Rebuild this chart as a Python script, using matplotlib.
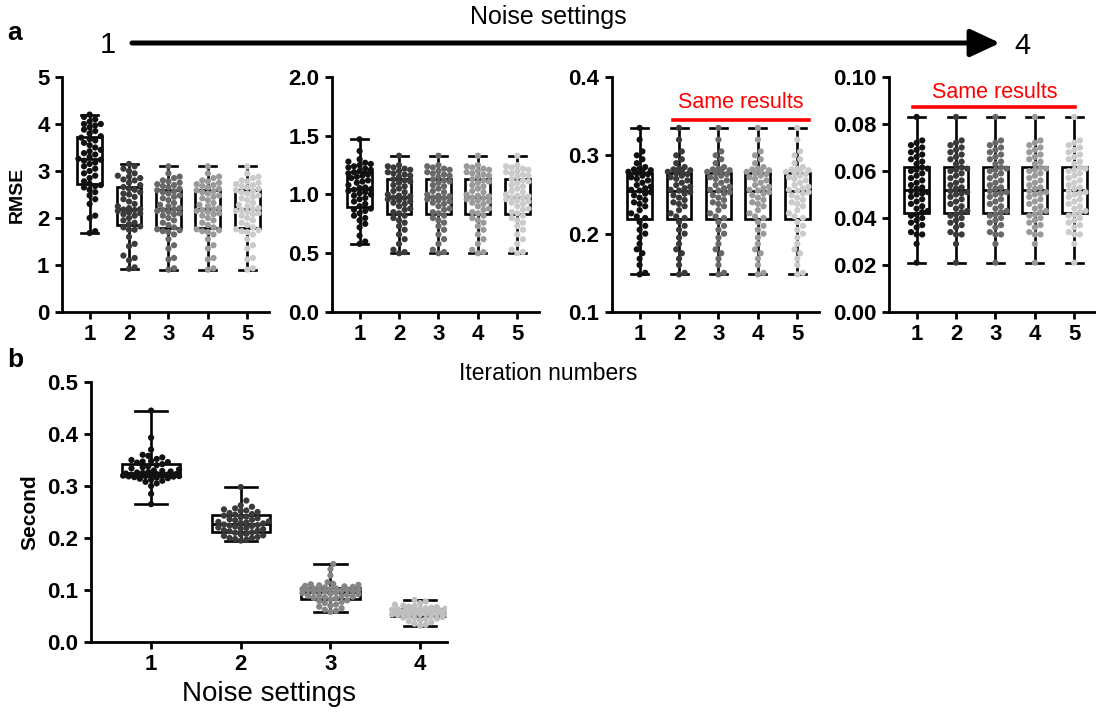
import numpy as np
import matplotlib
matplotlib.use('Agg')
import matplotlib.pyplot as plt
from matplotlib.patches import FancyArrowPatch
from matplotlib.ticker import FormatStrFormatter

plt.rcParams['font.family'] = ['Liberation Sans', 'DejaVu Sans']

# ---- data: RMSE per iteration, for each noise setting (a) ----
iterations = [1, 2, 3, 4, 5]

rmse_n1_it1 = [1.68, 1.72, 2.00, 2.05, 2.30, 2.40, 2.48, 2.55, 2.60, 2.65, 2.68, 2.70,
               2.73, 2.78, 2.85, 2.90, 2.95, 3.00, 3.05, 3.10, 3.15, 3.18, 3.22, 3.24,
               3.26, 3.30, 3.35, 3.38, 3.42, 3.45, 3.50, 3.55, 3.60, 3.65, 3.68, 3.71,
               3.74, 3.80, 3.85, 3.88, 3.93, 3.97, 4.00, 4.00, 4.05, 4.10, 4.15, 4.20]
rmse_n1_it2 = [0.92, 0.95, 1.10, 1.15, 1.20, 1.40, 1.45, 1.60, 1.75, 1.75, 1.80, 1.82,
               1.87, 1.90, 1.95, 2.00, 2.05, 2.08, 2.10, 2.12, 2.15, 2.17, 2.18, 2.19,
               2.21, 2.25, 2.30, 2.35, 2.40, 2.45, 2.50, 2.52, 2.55, 2.60, 2.62, 2.66,
               2.70, 2.75, 2.80, 2.82, 2.85, 2.88, 2.90, 2.95, 3.00, 3.05, 3.10, 3.15]
rmse_n1_it3 = [0.90, 0.93, 1.12, 1.15, 1.35, 1.42, 1.55, 1.65, 1.70, 1.72, 1.74, 1.76,
               1.80, 1.85, 1.90, 1.95, 2.00, 2.05, 2.08, 2.10, 2.13, 2.15, 2.17, 2.19,
               2.21, 2.25, 2.28, 2.32, 2.38, 2.42, 2.45, 2.48, 2.52, 2.55, 2.57, 2.59,
               2.62, 2.65, 2.68, 2.70, 2.72, 2.75, 2.78, 2.80, 2.85, 2.88, 2.95, 3.10]

rmse_n2_it1 = [0.58, 0.60, 0.65, 0.72, 0.75, 0.78, 0.80, 0.82, 0.84, 0.86, 0.87, 0.88,
               0.90, 0.92, 0.94, 0.96, 0.97, 0.99, 1.00, 1.01, 1.02, 1.03, 1.04, 1.045,
               1.055, 1.06, 1.08, 1.10, 1.11, 1.12, 1.14, 1.15, 1.16, 1.17, 1.18, 1.19,
               1.20, 1.21, 1.22, 1.23, 1.24, 1.25, 1.26, 1.27, 1.28, 1.30, 1.37, 1.47]
rmse_n2_it2 = [0.50, 0.51, 0.53, 0.58, 0.62, 0.66, 0.70, 0.73, 0.76, 0.78, 0.80, 0.82,
               0.84, 0.85, 0.87, 0.88, 0.90, 0.92, 0.93, 0.94, 0.95, 0.96, 0.97, 0.975,
               0.985, 0.99, 1.00, 1.02, 1.03, 1.05, 1.07, 1.08, 1.10, 1.11, 1.12, 1.13,
               1.15, 1.16, 1.17, 1.18, 1.19, 1.20, 1.21, 1.22, 1.23, 1.24, 1.25, 1.33]

rmse_n3 = [0.148, 0.150, 0.160, 0.168, 0.175, 0.180, 0.187, 0.195, 0.200, 0.205, 0.210, 0.215,
           0.220, 0.222, 0.226, 0.230, 0.235, 0.238, 0.240, 0.243, 0.246, 0.249, 0.251, 0.253,
           0.255, 0.256, 0.258, 0.260, 0.262, 0.265, 0.268, 0.270, 0.272, 0.274, 0.276, 0.277,
           0.279, 0.280, 0.281, 0.282, 0.283, 0.285, 0.290, 0.295, 0.300, 0.305, 0.320, 0.335]

rmse_n4 = [0.021, 0.029, 0.033, 0.033, 0.034, 0.036, 0.037, 0.038, 0.039, 0.040, 0.041, 0.0415,
           0.0425, 0.043, 0.044, 0.045, 0.046, 0.047, 0.048, 0.049, 0.050, 0.0505, 0.051, 0.0515,
           0.0525, 0.053, 0.054, 0.055, 0.056, 0.057, 0.058, 0.059, 0.060, 0.0605, 0.061, 0.0615,
           0.063, 0.064, 0.065, 0.066, 0.067, 0.068, 0.069, 0.070, 0.071, 0.072, 0.073, 0.083]

rmse_panels = [
    [rmse_n1_it1, rmse_n1_it2, rmse_n1_it3, rmse_n1_it3, rmse_n1_it3],
    [rmse_n2_it1, rmse_n2_it2, rmse_n2_it2, rmse_n2_it2, rmse_n2_it2],
    [rmse_n3] * 5,
    [rmse_n4] * 5,
]

# ---- data: run time per noise setting (b) ----
noise_settings = [1, 2, 3, 4]

time_n1 = [0.265, 0.285, 0.300, 0.305, 0.308, 0.310, 0.312, 0.314, 0.315, 0.316, 0.317, 0.318,
           0.3185, 0.319, 0.319, 0.320, 0.320, 0.321, 0.321, 0.322, 0.322, 0.323, 0.323, 0.324,
           0.325, 0.326, 0.327, 0.328, 0.329, 0.330, 0.332, 0.334, 0.336, 0.338, 0.340, 0.342,
           0.345, 0.346, 0.347, 0.348, 0.350, 0.352, 0.355, 0.358, 0.360, 0.370, 0.393, 0.445]
time_n2 = [0.195, 0.197, 0.198, 0.200, 0.200, 0.202, 0.204, 0.205, 0.207, 0.208, 0.210, 0.211,
           0.213, 0.214, 0.215, 0.217, 0.218, 0.219, 0.220, 0.222, 0.223, 0.224, 0.225, 0.226,
           0.228, 0.229, 0.230, 0.231, 0.232, 0.234, 0.235, 0.236, 0.238, 0.240, 0.241, 0.243,
           0.245, 0.246, 0.248, 0.250, 0.252, 0.253, 0.255, 0.257, 0.260, 0.263, 0.272, 0.298]
time_n3 = [0.058, 0.060, 0.062, 0.065, 0.068, 0.070, 0.072, 0.075, 0.077, 0.079, 0.080, 0.082,
           0.084, 0.085, 0.086, 0.087, 0.088, 0.089, 0.090, 0.091, 0.092, 0.093, 0.094, 0.095,
           0.096, 0.097, 0.098, 0.099, 0.100, 0.100, 0.101, 0.101, 0.102, 0.102, 0.103, 0.103,
           0.105, 0.106, 0.107, 0.108, 0.109, 0.110, 0.111, 0.112, 0.115, 0.128, 0.140, 0.150]
time_n4 = [0.031, 0.033, 0.035, 0.038, 0.040, 0.042, 0.044, 0.045, 0.046, 0.047, 0.048, 0.049,
           0.051, 0.052, 0.052, 0.053, 0.053, 0.054, 0.054, 0.055, 0.055, 0.056, 0.056, 0.057,
           0.058, 0.058, 0.059, 0.059, 0.060, 0.060, 0.061, 0.061, 0.062, 0.062, 0.062, 0.063,
           0.064, 0.064, 0.065, 0.066, 0.067, 0.068, 0.069, 0.070, 0.072, 0.075, 0.078, 0.081]
time_sets = [time_n1, time_n2, time_n3, time_n4]

iter_colors = ['#111111', '#3a3a3a', '#686868', '#9a9a9a', '#cbcbcb']
noise_colors = ['#111111', '#3a3a3a', '#858585', '#bfbfbf']

W, H = 1096, 715
fig = plt.figure(figsize=(W / 100, H / 100), dpi=100)


def px_axes(left, top, right, bottom):
    return fig.add_axes([left / W, 1 - bottom / H, (right - left) / W, (bottom - top) / H])


def style_axes(ax):
    for s in ['top', 'right']:
        ax.spines[s].set_visible(False)
    for s in ['left', 'bottom']:
        ax.spines[s].set_linewidth(2.0)
    ax.tick_params(width=2.0, length=5, labelsize=16, pad=4)
    for lab in ax.get_xticklabels() + ax.get_yticklabels():
        lab.set_fontweight('bold')


def swarm_x(ax, x0, vals, d=5.6, max_half=14):
    # spread points sideways so they don't pile on top of each other
    pts = ax.transData.transform(np.column_stack([np.full(len(vals), x0), vals]))
    ys = pts[:, 1]
    xc = pts[0, 0]
    placed = []
    xs = np.zeros(len(ys))
    step = d * 0.5
    for i in np.argsort(ys):
        y = ys[i]
        best, best_gap = 0.0, -1
        k = 0
        while True:
            off = ((k + 1) // 2) * step * (1 if k % 2 else -1)
            if abs(off) > max_half:
                break
            gap = min([np.hypot(off - px, y - py) for px, py in placed] or [1e9])
            if gap >= d:
                best = off
                break
            if gap > best_gap:
                best, best_gap = off, gap
            k += 1
        placed.append((best, y))
        xs[i] = xc + best
    out = ax.transData.inverted().transform(np.column_stack([xs, ys]))
    return out[:, 0]


def draw_group(ax, pos, vals, color, width, capw, max_half):
    lw = 1.9
    ax.boxplot([vals], positions=[pos], widths=width, whis=(0, 100), showfliers=False,
               capwidths=capw, patch_artist=True, manage_ticks=False,
               boxprops=dict(facecolor='white', edgecolor='black', linewidth=lw),
               medianprops=dict(color='black', linewidth=lw),
               whiskerprops=dict(color='black', linewidth=lw),
               capprops=dict(color='black', linewidth=lw), zorder=2)
    xs = swarm_x(ax, pos, vals, max_half=max_half)
    ax.scatter(xs, vals, s=20, color=color, edgecolors='none', zorder=3)


# ---- panel a ----
a_lefts = [62, 332, 612, 889]
a_limits = [(0, 5), (0, 2), (0.1, 0.4), (0, 0.1)]
a_ticks = [np.arange(0, 5.1, 1), np.arange(0, 2.01, 0.5),
           np.arange(0.1, 0.41, 0.1), np.arange(0, 0.101, 0.02)]
a_fmts = ['%d', '%.1f', '%.1f', '%.2f']

a_axes = []
for left, groups, lim, ticks, fmt in zip(a_lefts, rmse_panels, a_limits, a_ticks, a_fmts):
    ax = px_axes(left, 77, left + 207, 312)
    ax.set_xlim(0.3, 5.55)
    ax.set_ylim(*lim)
    ax.set_xticks(iterations)
    ax.set_yticks(ticks)
    ax.yaxis.set_major_formatter(FormatStrFormatter(fmt))
    for it, vals, c in zip(iterations, groups, iter_colors):
        draw_group(ax, it, vals, c, 0.63, 0.43, 12)
    style_axes(ax)
    a_axes.append(ax)

a_axes[0].set_ylabel('RMSE', fontsize=14, fontweight='bold', labelpad=8)

# identical results across iterations
ax3, ax4 = a_axes[2], a_axes[3]
ax3.plot([1.84, 5.30], [0.345, 0.345], color='#ff0000', lw=2.6, clip_on=False)
ax3.text(3.57, 0.367, 'Same results', color='#ff0000', fontsize=15.5, ha='center', va='center')
ax4.plot([0.92, 5.03], [0.0872, 0.0872], color='#ff0000', lw=2.6, clip_on=False)
ax4.text(2.97, 0.0936, 'Same results', color='#ff0000', fontsize=15.5, ha='center', va='center')

fig.text(548 / W, 1 - 373 / H, 'Iteration numbers', fontsize=16.5, ha='center', va='center')

# noise setting arrow on top
fig.text(548 / W, 1 - 17 / H, 'Noise settings', fontsize=18, ha='center', va='center')
fig.text(108 / W, 1 - 45 / H, '1', fontsize=21, ha='center', va='center')
fig.text(1022 / W, 1 - 46 / H, '4', fontsize=21, ha='center', va='center')
fig.add_artist(FancyArrowPatch((132 / W, 1 - 43 / H), (1000 / W, 1 - 43 / H),
                               transform=fig.transFigure, arrowstyle='-|>,head_length=0.9,head_width=0.42',
                               mutation_scale=20, linewidth=3.6, color='black',
                               shrinkA=0, shrinkB=0))

# ---- panel b ----
axb = px_axes(91, 382, 447, 642)
axb.set_xlim(0.33, 4.3)
axb.set_ylim(0, 0.5)
axb.set_xticks(noise_settings)
axb.set_yticks(np.arange(0, 0.51, 0.1))
axb.yaxis.set_major_formatter(FormatStrFormatter('%.1f'))
for n, vals, c in zip(noise_settings, time_sets, noise_colors):
    draw_group(axb, n, vals, c, 0.65, 0.36, 30)
style_axes(axb)
axb.set_ylabel('Second', fontsize=15, fontweight='bold', labelpad=6)
axb.set_xlabel('Noise settings', fontsize=20, labelpad=4)

fig.text(15 / W, 1 - 33 / H, 'a', fontsize=19, fontweight='bold', ha='center', va='center')
fig.text(15 / W, 1 - 360 / H, 'b', fontsize=19, fontweight='bold', ha='center', va='center')

fig.savefig('out.png', dpi=100, facecolor='white')
